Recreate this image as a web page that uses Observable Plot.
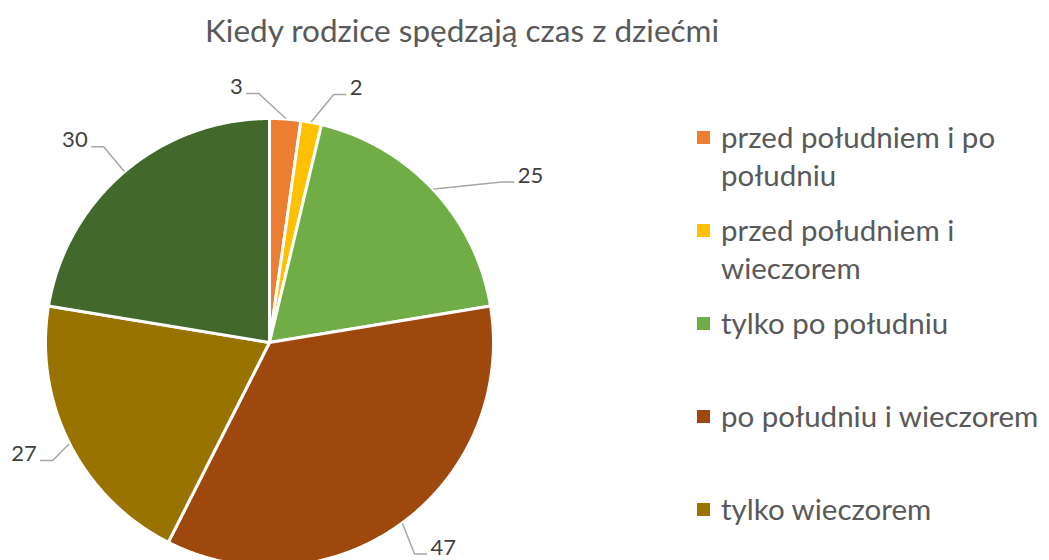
<!DOCTYPE html>
<html><head><meta charset="utf-8">
<script src="https://cdn.jsdelivr.net/npm/d3@7"></script>
<script src="https://cdn.jsdelivr.net/npm/@observablehq/plot@0.6"></script>
<style>
body{margin:0;width:1049px;height:560px;overflow:hidden;position:relative;background:#fff;font-family:Lato,sans-serif}
#title{height:60px;width:924px;text-align:center;font-size:31.5px;color:#595959;line-height:60px;white-space:nowrap}
#chart{position:absolute;left:0;top:60px}
#legend{position:absolute;left:697px;top:118px}
.item{height:93px;display:flex;align-items:flex-start}
.sw{width:13px;height:13px;margin-top:12.5px;margin-right:11px;flex:none}
.lab{font-size:29.5px;line-height:38px;color:#595959;width:335px}
</style></head>
<body>
<div id="title"></div>
<div id="chart"></div>
<div id="legend"></div>
<script>
const title = "Kiedy rodzice spędzają czas z dziećmi";
const categories = [
  "przed południem i po południu",
  "przed południem i wieczorem",
  "tylko po południu",
  "po południu i wieczorem",
  "tylko wieczorem",
  "przed południem, po południu i wieczorem"
];
const values = [3, 2, 25, 47, 27, 30];
const colors = ["#ED7D31", "#FFC000", "#70AD47", "#9E480E", "#997300", "#43682B"];
// label placement (polar: degrees clockwise from 12 o'clock, radius in pie radii)
const labelAngles = [-7.4, 18.8, 57.4, 139.7, 245.6, 316.1];
const labelRadii = [1.15, 1.2, 1.383, 1.2, 1.204, 1.253];

const W = 1049, H = 500, cx = 269, cy = 282, R = 224;
const labelSize = 22;

document.getElementById("title").textContent = title;

const slices = d3.pie().sort(null).value(d => d)(values);
const wedgePts = slices.flatMap((s, i) => {
  const key = categories[i];
  const n = Math.max(2, Math.ceil((s.endAngle - s.startAngle) / (Math.PI / 360)));
  const pts = [{key, x: 0, y: 0}];
  for (let k = 0; k <= n; k++) {
    const a = s.startAngle + (s.endAngle - s.startAngle) * k / n;
    pts.push({key, x: Math.sin(a), y: -Math.cos(a)});
  }
  pts.push({key, x: 0, y: 0});
  return pts;
});

const labelPts = slices.map((s, i) => {
  const a = labelAngles[i] * Math.PI / 180;
  return {key: categories[i], text: String(values[i]), x: labelRadii[i] * Math.sin(a), y: -labelRadii[i] * Math.cos(a)};
});

const leaderPts = slices.flatMap((s, i) => {
  const key = categories[i];
  const m = (s.startAngle + s.endAngle) / 2;
  const ax = Math.sin(m) * (R + 1) / R, ay = -Math.cos(m) * (R + 1) / R;
  const L = labelPts[i];
  const hw = String(values[i]).length * 0.58 * labelSize / 2;
  const dir = L.x < ax ? 1 : -1;
  const x0 = L.x + dir * (hw + 4) / R;
  const x1 = x0 + dir * 12 / R;
  const y0 = L.y + 6.5 / R;
  return [{key, x: x0, y: y0}, {key, x: x1, y: y0}, {key, x: ax, y: ay}];
});

const chart = Plot.plot({
  width: W, height: H, margin: 0,
  style: {background: "transparent", fontFamily: "Lato, sans-serif"},
  x: {domain: [-1, 1], range: [cx - R, cx + R], axis: null},
  y: {domain: [-1, 1], range: [cy - R, cy + R], axis: null},
  color: {domain: categories, range: colors},
  marks: [
    Plot.line(wedgePts, {x: "x", y: "y", z: "key", fill: "key", stroke: "white", strokeWidth: 3, strokeLinejoin: "round"}),
    Plot.line(leaderPts, {x: "x", y: "y", z: "key", stroke: "#A6A6A6", strokeWidth: 1.5}),
    Plot.text(labelPts, {x: "x", y: "y", text: "text", fontSize: labelSize, fill: "#404040"})
  ]
});
document.getElementById("chart").appendChild(chart);

const legend = document.getElementById("legend");
categories.forEach((c, i) => {
  const item = document.createElement("div");
  item.className = "item";
  const sw = document.createElement("div");
  sw.className = "sw";
  sw.style.background = colors[i];
  const lab = document.createElement("div");
  lab.className = "lab";
  lab.textContent = c;
  item.appendChild(sw);
  item.appendChild(lab);
  legend.appendChild(item);
});
// like the reference, legend entries that fall below the chart area are not shown
Array.from(legend.children).forEach(el => {
  if (el.getBoundingClientRect().top > 560) el.remove();
});
</script>
</body></html>
